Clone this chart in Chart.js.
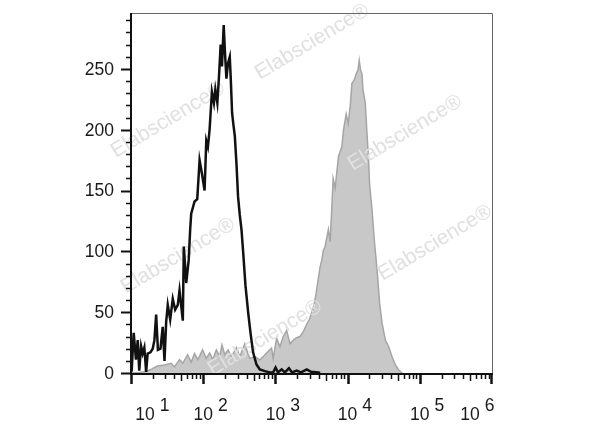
<!DOCTYPE html>
<html>
<head>
<meta charset="utf-8">
<script src="https://cdn.jsdelivr.net/npm/chart.js@4"></script>
<style>
  html, body { margin: 0; padding: 0; background: #fff; }
</style>
</head>
<body>
<canvas id="histo" width="600" height="427"></canvas>
<script>
(function () {
    "use strict";

    // Unstained / isotype control (black outline)
    var blackX = [10.2, 10.9, 11.7, 12.4, 13.0, 13.8, 14.5, 15.3, 16.2, 17.0, 18.6, 20.0, 21.1, 22.3, 23.6,
        25.6, 27.5, 29.1, 30.7, 32.3, 34.9, 37.9, 40.9, 44.5, 47.0, 52.2, 53.9, 58.2, 63, 66,
        68.2, 75.9, 82.7, 89.1, 96.0, 104.5, 110.3, 116.2, 122.6, 132.0, 140.8, 147.2, 157.0, 165.5, 174.6,
        182.0, 192.2, 200.4, 209.7, 220.8, 233.3, 240.8, 251.2, 261, 274, 289, 304, 321, 339, 357,
        385, 419, 452, 491, 547, 608, 714, 838, 931, 1006, 1084, 1220, 1356, 1541, 1696,
        1971, 2264, 2718, 3120, 3939, 4160];
    var blackY = [1, 33, 11, 27, 2, 22, 16, 21, 1, 16, 17, 20, 27, 48, 19,
        20, 38, 10, 42, 56, 44, 61, 52, 56, 68, 43, 104, 74, 93, 118,
        131, 141, 143, 175, 164, 150, 191, 186, 200, 231, 222, 233, 222, 244, 270,
        252, 286, 263, 242, 255, 260, 242, 214, 205, 195, 172, 145, 130, 118, 100,
        72, 50, 33, 17, 7, 3, 1.5, 0.5, 0.5, 4.5, 0.5, 3, 0.5, 4, 0.5,
        2, 0.5, 3, 1, 0.5, 0];

    // Stained sample (grey filled)
    var grayX = [10.1, 13.0, 15.3, 19.0, 23.2, 29.1, 36.0, 40.0, 47.0, 52.2, 60.7, 68.2, 75.9, 84.4, 98.1,
        110, 123, 136, 152, 169, 182, 199, 221, 246, 289, 321, 377, 415, 442, 518,
        608, 755, 885, 931, 1040, 1156, 1285, 1432, 1592, 1771, 1971, 2192, 2437, 2717, 2952,
        3187, 3428, 3654, 3937, 4158, 4395, 4625, 4880, 5423, 5728, 6049, 6307, 6726, 7472, 8330,
        8775, 9557, 10190, 10860, 11470, 12350, 13170, 13910, 14500, 15110, 15810, 16320, 17570, 18550, 19530,
        20170, 21790, 23460, 25570, 27800, 30000, 33350, 37070, 41310, 45920, 51050, 56870];
    var grayY = [0, 0.5, 1, 3, 5.7, 6.5, 8, 5, 11, 8, 15, 9, 16, 11, 19,
        12, 16.5, 11, 19, 13.5, 23, 15, 19, 13.4, 21, 13.4, 24, 16, 12, 13.4,
        10.7, 16.4, 20.5, 12, 28.5, 21.6, 30, 35, 24, 27, 29, 30, 34, 40, 44,
        50, 56, 65, 78, 87, 93, 101, 104, 118, 108, 136, 160, 152, 178, 186,
        200, 213, 205, 219, 238, 241, 246, 249, 257, 249, 246, 233, 222, 197, 175,
        155, 134, 109, 85, 57, 41, 27, 21.6, 13.4, 6.6, 2.5, 0];

    // Axis ticks
    var yLabelValues = [0, 50, 100, 150, 200, 250];
    var xDecades = [1, 2, 3, 4, 5, 6];

    var FONT = '"Liberation Sans", Arial, sans-serif';

    function pairs(xs, ys) {
        return xs.map(function (v, i) { return {x: v, y: ys[i]}; });
    }

    function drawWatermark(ctx) {
        var spots = [[312, 42], [168, 120], [405, 133], [178, 256], [435, 243], [265, 338]];
        ctx.save();
        ctx.fillStyle = '#e0e0e0';
        ctx.font = '21px ' + FONT;
        ctx.textAlign = 'center';
        ctx.textBaseline = 'middle';
        spots.forEach(function (p) {
            ctx.save();
            ctx.translate(p[0], p[1]);
            ctx.rotate(-31 * Math.PI / 180);
            ctx.fillText('Elabscience\u00ae', 0, 0);
            ctx.restore();
        });
        ctx.restore();
    }

    var flowAxes = {
        id: 'flowAxes',
        afterDatasetDraw: function (chart, args) {
            if (args.index === 1) drawWatermark(chart.ctx);
        },
        afterDraw: function (chart) {
            var ctx = chart.ctx, a = chart.chartArea;
            var x = chart.scales.x, y = chart.scales.y;
            ctx.save();

            // thin frame top/right
            ctx.strokeStyle = '#666';
            ctx.lineWidth = 1;
            ctx.beginPath();
            ctx.moveTo(a.left, a.top + 0.5);
            ctx.lineTo(a.right + 0.5, a.top + 0.5);
            ctx.lineTo(a.right + 0.5, a.bottom);
            ctx.stroke();

            // left + bottom axes
            ctx.strokeStyle = '#111';
            ctx.lineWidth = 2;
            ctx.beginPath();
            ctx.moveTo(a.left, a.top);
            ctx.lineTo(a.left, a.bottom + 1);
            ctx.lineTo(a.right + 1, a.bottom + 1);
            ctx.stroke();

            // y ticks every 10
            for (var v = 0; v <= 290; v += 10) {
                var py = Math.round(y.getPixelForValue(v)) + 0.5;
                var major = v % 50 === 0;
                ctx.lineWidth = major ? 2 : 1.5;
                ctx.beginPath();
                ctx.moveTo(a.left, py);
                ctx.lineTo(a.left - (major ? 10 : 5), py);
                ctx.stroke();
            }

            // x ticks, log decades
            for (var d = 1; d <= 5; d++) {
                for (var m = 1; m <= 9; m++) {
                    var px = Math.round(x.getPixelForValue(m * Math.pow(10, d))) + 0.5;
                    var len = m === 1 ? 11 : (m === 5 ? 8 : 6);
                    ctx.lineWidth = m === 1 ? 2.5 : 1.5;
                    ctx.beginPath();
                    ctx.moveTo(px, a.bottom);
                    ctx.lineTo(px, a.bottom + len);
                    ctx.stroke();
                }
            }
            var pxEnd = Math.round(x.getPixelForValue(1e6)) - 0.5;
            ctx.lineWidth = 2.5;
            ctx.beginPath();
            ctx.moveTo(pxEnd, a.bottom);
            ctx.lineTo(pxEnd, a.bottom + 11);
            ctx.stroke();

            // y labels
            ctx.fillStyle = '#1a1a1a';
            ctx.font = '17.5px ' + FONT;
            ctx.textAlign = 'right';
            ctx.textBaseline = 'middle';
            yLabelValues.forEach(function (val) {
                ctx.fillText(String(val), a.left - 17, y.getPixelForValue(val) + 1);
            });

            // x labels: 10 with raised exponent
            var nudge = [14, 0, 0, 0, 0, -22];
            ctx.textBaseline = 'alphabetic';
            xDecades.forEach(function (e, i) {
                var cx = x.getPixelForValue(Math.pow(10, e)) + nudge[i];
                var w = ctx.measureText('10').width;
                ctx.textAlign = 'center';
                ctx.fillText('10', cx, 420);
                ctx.textAlign = 'left';
                ctx.fillText(String(e), cx + w / 2 + 5, 411);
            });

            ctx.restore();
        }
    };

    var ctx = document.getElementById('histo').getContext('2d');
    new Chart(ctx, {
        type: 'line',
        data: {
            datasets: [{
                label: 'control',
                data: pairs(blackX, blackY),
                borderColor: '#111',
                borderWidth: 2.5,
                pointRadius: 0,
                fill: false,
                order: 0
            }, {
                label: 'stained',
                data: pairs(grayX, grayY),
                borderColor: '#a5a5a5',
                borderWidth: 1.5,
                backgroundColor: '#c8c8c8',
                pointRadius: 0,
                fill: 'origin',
                order: 1
            }]
        },
        options: {
            responsive: false,
            animation: false,
            layout: {padding: {left: 131, right: 108, top: 13, bottom: 54}},
            plugins: {legend: {display: false}, tooltip: {enabled: false}},
            scales: {
                x: {type: 'logarithmic', min: 10, max: 1e6, display: false},
                y: {type: 'linear', min: 0, max: 296, display: false}
            }
        },
        plugins: [flowAxes]
    });
})();
</script>
</body>
</html>
